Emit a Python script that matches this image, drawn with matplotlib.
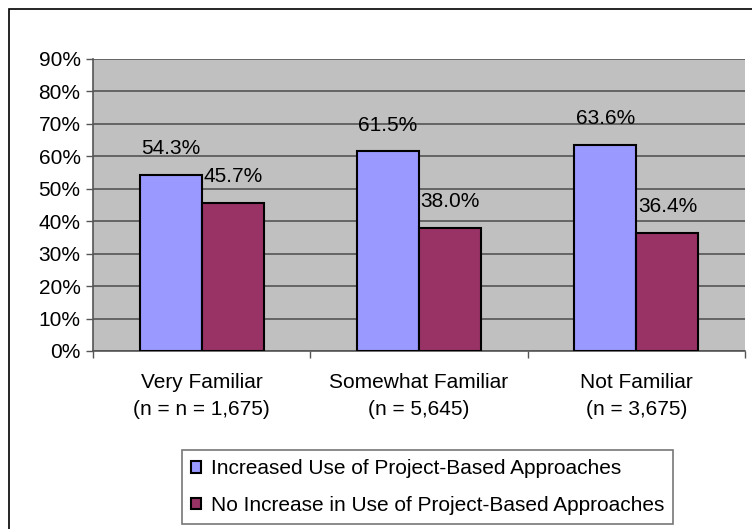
import matplotlib
matplotlib.use("Agg")
import matplotlib.pyplot as plt
import numpy as np
from matplotlib.patches import Rectangle

plt.rcParams['font.family'] = ['Liberation Sans', 'DejaVu Sans']

categories = ['Very Familiar\n(n = n = 1,675)',
              'Somewhat Familiar\n(n = 5,645)',
              'Not Familiar\n(n = 3,675)']
increased = [54.3, 61.5, 63.6]
no_increase = [45.7, 38.0, 36.4]
series_names = ['Increased Use of Project-Based Approaches',
                'No Increase in Use of Project-Based Approaches']
yticks = [0, 10, 20, 30, 40, 50, 60, 70, 80, 90]

fig = plt.figure(figsize=(7.52, 5.29), dpi=100)
fig.patch.set_facecolor('white')

# outer chart border (right and bottom edges run past the canvas)
fig.add_artist(Rectangle((9 / 752, -0.05), 1.0, 1.05 - 9 / 529,
                         transform=fig.transFigure, fill=False,
                         edgecolor='black', linewidth=1.2))

ax = fig.add_axes([93 / 752, 1 - 351 / 529, 652 / 752, 292 / 529])
ax.set_facecolor('#C0C0C0')

x = np.arange(len(categories))
w = 1 / 3.5
b1 = ax.bar(x - w / 2, increased, w, color='#9999FF', edgecolor='black',
            linewidth=1.5, label=series_names[0], zorder=3)
b2 = ax.bar(x + w / 2, no_increase, w, color='#993366', edgecolor='black',
            linewidth=1.5, label=series_names[1], zorder=3)

for bars, vals in [(b1, increased), (b2, no_increase)]:
    for rect, v in zip(bars, vals):
        ax.annotate(f'{v:.1f}%', (rect.get_x() + rect.get_width() / 2, v),
                    xytext=(0, 15), textcoords='offset points',
                    ha='center', va='baseline', fontsize=15, zorder=4)

ax.set_xlim(-0.5, len(categories) - 0.5)
ax.set_ylim(0, 90)
ax.set_yticks(yticks)
ax.set_yticklabels([f'{t}%' for t in yticks], fontsize=15)
ax.yaxis.grid(True, color='#555555', linewidth=1.2, zorder=1)
ax.tick_params(axis='y', length=5, width=1, color='#555555', pad=4)

ax.set_xticks(x)
ax.set_xticklabels(categories, fontsize=15, linespacing=1.55)
ax.set_xticks(np.arange(len(categories) + 1) - 0.5, minor=True)
ax.tick_params(axis='x', which='major', length=0, pad=16)
ax.tick_params(axis='x', which='minor', length=5, width=1, color='#555555')

for side in ['top', 'right']:
    ax.spines[side].set_visible(False)
ax.spines['left'].set_color('#555555')
ax.spines['bottom'].set_color('#555555')
ax.spines['left'].set_linewidth(1.2)
ax.spines['bottom'].set_linewidth(1.2)

leg = fig.legend(handles=[b1, b2], loc='center',
                 bbox_to_anchor=((183 + 672) / 2 / 752, 1 - (447 + 527) / 2 / 529),
                 fontsize=15, frameon=True, fancybox=False, edgecolor='#555555',
                 handlelength=0.5, handleheight=0.5, handletextpad=0.45,
                 labelspacing=0.85, borderpad=0.45, borderaxespad=0)
leg.get_frame().set_linewidth(1.2)

fig.savefig('out.png', dpi=100)
